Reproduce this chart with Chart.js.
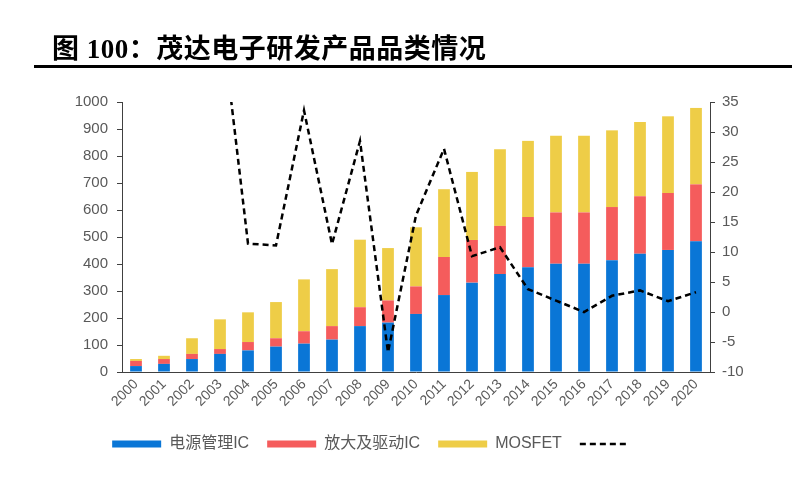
<!DOCTYPE html>
<html>
<head>
<meta charset="utf-8">
<script src="https://cdn.jsdelivr.net/npm/chart.js@4"></script>
<style>
  body { margin: 0; background: #fff; }
  #wrap { position: relative; width: 806px; height: 477px; }
  #title {
    position: absolute; left: 52px; top: 34px;
    font: bold 27px "Liberation Serif", "Noto Sans CJK SC", serif;
    letter-spacing: 0.5px; line-height: 30px; color: #000; white-space: nowrap;
  }
  #rule { position: absolute; left: 34px; top: 65px; width: 758px; height: 3px; background: #000; }
  canvas { position: absolute; left: 0; top: 0; }
</style>
</head>
<body>
<div id="wrap">
  <canvas id="chart" width="806" height="477"></canvas>
  <div id="title">图 100：茂达电子研发产品品类情况</div>
  <div id="rule"></div>
</div>
<script>
// years on the x axis
const years = ['2000', '2001', '2002', '2003', '2004', '2005', '2006', '2007', '2008', '2009', '2010',
               '2011', '2012', '2013', '2014', '2015', '2016', '2017', '2018', '2019', '2020'];

// stacked bar segments (left axis)
const powerIC = [22, 30, 48, 67, 80, 94, 105, 120, 170, 183, 215, 285, 331, 363, 388, 401, 401, 414, 438, 452, 484];
const ampDriverIC = [19, 18, 19, 18, 31, 31, 46, 50, 70, 82, 102, 141, 158, 178, 186, 190, 190, 197, 213, 211, 211];
const mosfet = [7, 12, 58, 110, 110, 134, 192, 211, 250, 194, 219, 251, 252, 284, 282, 284, 284, 284, 275, 284, 283];

// dashed line (right axis), early years run off the top of the chart
const growth = [null, 35, 105, 51, 11.4, 11.1, 33.6, 11.3, 28.5, -6.7, 16.1, 27.2, 9.3, 10.8, 3.8, 1.9, 0, 2.7, 3.6, 1.8, 3.3];

const axisColor = '#404040';
const textColor = '#595959';

Chart.defaults.font.family = '"Liberation Sans", "Noto Sans CJK SC", sans-serif';
Chart.defaults.color = textColor;

new Chart(document.getElementById('chart').getContext('2d'), {
    type: 'bar',
    data: {
        labels: years,
        datasets: [
            { label: '电源管理IC', data: powerIC, backgroundColor: '#0A76D6', yAxisID: 'y', order: 1 },
            { label: '放大及驱动IC', data: ampDriverIC, backgroundColor: '#F55C5C', yAxisID: 'y', order: 1 },
            { label: 'MOSFET', data: mosfet, backgroundColor: '#EECD47', yAxisID: 'y', order: 1 },
            {
                type: 'line',
                label: '',
                data: growth,
                yAxisID: 'y1',
                borderColor: '#000',
                backgroundColor: '#000',
                borderWidth: 2.5,
                borderDash: [6, 4],
                pointRadius: 0,
                tension: 0,
                spanGaps: true,
                clip: 0,
                order: 0
            }
        ]
    },
    options: {
        responsive: false,
        animation: false,
        layout: { padding: { left: 0, right: 57, top: 102, bottom: 15 } },
        datasets: { bar: { barPercentage: 0.42, categoryPercentage: 1 } },
        plugins: {
            tooltip: { enabled: false },
            legend: {
                position: 'bottom',
                align: 'center',
                labels: {
                    usePointStyle: true,
                    pointStyleWidth: 49,
                    boxHeight: 7,
                    padding: 18,
                    color: textColor,
                    font: { size: 16 },
                    sort: (a, b) => a.datasetIndex - b.datasetIndex,
                    generateLabels: chart => {
                        const items = Chart.defaults.plugins.legend.labels.generateLabels(chart);
                        items.forEach(it => {
                            const ds = chart.data.datasets[it.datasetIndex];
                            if (ds.type === 'line') {
                                it.pointStyle = 'line';
                                it.lineDash = ds.borderDash;
                                it.lineWidth = ds.borderWidth;
                                it.strokeStyle = ds.borderColor;
                            } else {
                                it.pointStyle = 'rect';
                            }
                        });
                        return items;
                    }
                }
            }
        },
        scales: {
            x: {
                stacked: true,
                afterFit: s => { s.height = 46; },
                grid: { display: false, drawTicks: false },
                border: { display: true, color: axisColor, width: 1 },
                ticks: { autoSkip: false, maxRotation: 45, minRotation: 45, padding: 4, font: { size: 14 }, color: textColor }
            },
            y: {
                stacked: true,
                position: 'left',
                min: 0,
                max: 1000,
                afterFit: s => { s.width = 122; },
                grid: { drawOnChartArea: false, drawTicks: true, tickLength: 5, tickColor: axisColor },
                border: { display: true, color: axisColor, width: 1 },
                ticks: { stepSize: 100, padding: 9, font: { size: 15 }, color: textColor, callback: v => String(v) }
            },
            y1: {
                position: 'right',
                min: -10,
                max: 35,
                afterFit: s => { s.width = 39; },
                grid: { drawOnChartArea: false, drawTicks: true, tickLength: 5, tickColor: axisColor },
                border: { display: true, color: axisColor, width: 1 },
                ticks: { stepSize: 5, padding: 7, font: { size: 15 }, color: textColor, callback: v => String(v) }
            }
        }
    }
});
</script>
</body>
</html>
